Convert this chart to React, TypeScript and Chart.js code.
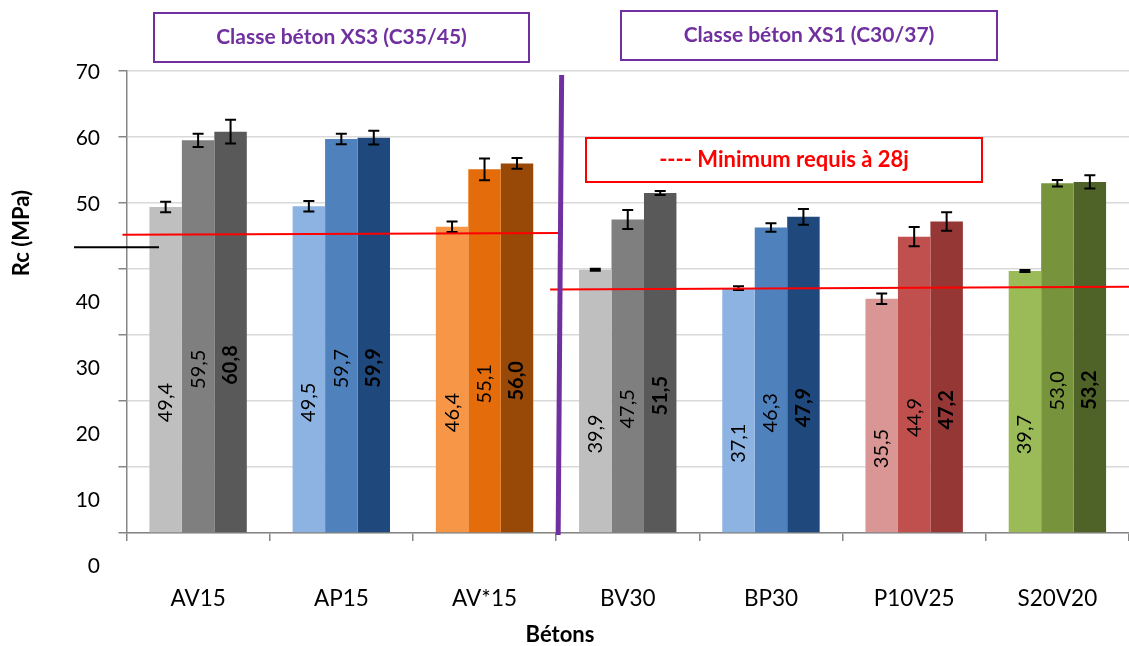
import React, { useEffect, useRef } from 'react';
import { Chart, registerables } from 'chart.js';

Chart.register(...registerables);

// ---- Data ----
const categories = ['AV15', 'AP15', 'AV*15', 'BV30', 'BP30', 'P10V25', 'S20V20'];
const seriesNames = ['Série 1', 'Série 2', 'Série 3'];
const series1 = [49.4, 49.5, 46.4, 39.9, 37.1, 35.5, 39.7];
const series2 = [59.5, 59.7, 55.1, 47.5, 46.3, 44.9, 53.0];
const series3 = [60.8, 59.9, 56.0, 51.5, 47.9, 47.2, 53.2];
const err1 = [0.8, 0.8, 0.8, 0.15, 0.3, 0.8, 0.15];
const err2 = [1.0, 0.8, 1.65, 1.45, 0.65, 1.45, 0.5];
const err3 = [1.8, 1.05, 0.8, 0.3, 1.2, 1.4, 1.0];
const labels1 = ['49,4', '49,5', '46,4', '39,9', '37,1', '35,5', '39,7'];
const labels2 = ['59,5', '59,7', '55,1', '47,5', '46,3', '44,9', '53,0'];
const labels3 = ['60,8', '59,9', '56,0', '51,5', '47,9', '47,2', '53,2'];
const yTickValues = [0, 10, 20, 30, 40, 50, 60, 70];
const minLineXS3 = [45.2, 45.45]; // start, end value (MPa)
const minLineXS1 = [36.9, 37.3];
const colors1 = ['#bfbfbf', '#8db3e2', '#f79646', '#bfbfbf', '#8db3e2', '#d99694', '#9bbb59'];
const colors2 = ['#7f7f7f', '#4f81bd', '#e46c0a', '#7f7f7f', '#4f81bd', '#c0504d', '#77933c'];
const colors3 = ['#595959', '#1f497d', '#984807', '#595959', '#1f497d', '#953735', '#4f6228'];
const boxText1 = 'Classe béton XS3 (C35/45)';
const boxText2 = 'Classe béton XS1 (C30/37)';
const minText = '---- Minimum requis à 28j';
const yTitle = 'Rc (MPa)';
const xTitle = 'Bétons';

const FONT = 'Lato, "Open Sans", sans-serif';

const overlay = {
  id: 'overlay',
  afterDatasetsDraw(chart: any) {
    const { ctx, scales } = chart;
    const x = scales.x;
    const y = scales.y;
    const errs = [err1, err2, err3];
    const labs = [labels1, labels2, labels3];
    ctx.save();
    // data labels
    labs.forEach((arr, di) => {
      const meta = chart.getDatasetMeta(di);
      meta.data.forEach((bar: any, i: number) => {
        const yc = (bar.y + bar.base) / 2 + 33;
        ctx.save();
        ctx.translate(bar.x, yc);
        ctx.rotate(-Math.PI / 2);
        ctx.font = (di === 2 ? 'bold ' : '') + '20px ' + FONT;
        ctx.fillStyle = '#000';
        ctx.textAlign = 'center';
        ctx.textBaseline = 'middle';
        ctx.fillText(arr[i], 0, 0);
        ctx.restore();
      });
    });
    // error bars
    ctx.strokeStyle = '#000';
    ctx.lineWidth = 2;
    errs.forEach((errArr, di) => {
      const meta = chart.getDatasetMeta(di);
      const data = chart.data.datasets[di].data as number[];
      meta.data.forEach((bar: any, i: number) => {
        const yt = y.getPixelForValue(data[i] + errArr[i]);
        const yb = y.getPixelForValue(data[i] - errArr[i]);
        ctx.beginPath();
        ctx.moveTo(bar.x, yt);
        ctx.lineTo(bar.x, yb);
        ctx.moveTo(bar.x - 5.5, yt);
        ctx.lineTo(bar.x + 5.5, yt);
        ctx.moveTo(bar.x - 5.5, yb);
        ctx.lineTo(bar.x + 5.5, yb);
        ctx.stroke();
      });
    });
    // minimum lines
    const step = (x.right - x.left) / categories.length;
    const sep = x.left + 3 * step;
    ctx.strokeStyle = '#ff0000';
    ctx.lineWidth = 2;
    ctx.beginPath();
    ctx.moveTo(x.left - 4, y.getPixelForValue(minLineXS3[0]));
    ctx.lineTo(sep + 4, y.getPixelForValue(minLineXS3[1]));
    ctx.stroke();
    ctx.beginPath();
    ctx.moveTo(sep - 6, y.getPixelForValue(minLineXS1[0]));
    ctx.lineTo(x.right, y.getPixelForValue(minLineXS1[1]));
    ctx.stroke();
    // short black mark
    ctx.strokeStyle = '#000';
    ctx.lineWidth = 2;
    ctx.beginPath();
    ctx.moveTo(74, y.getPixelForValue(43.3));
    ctx.lineTo(159, y.getPixelForValue(43.3));
    ctx.stroke();
    // purple separator
    ctx.strokeStyle = '#7030a0';
    ctx.lineWidth = 5;
    ctx.beginPath();
    ctx.moveTo(sep + 5.5, y.getPixelForValue(69.4));
    ctx.lineTo(sep + 2, y.bottom + 2);
    ctx.stroke();
    ctx.restore();
  },
  afterDraw(chart: any) {
    const { ctx, scales } = chart;
    const x = scales.x;
    const y = scales.y;
    ctx.save();
    // y tick labels
    ctx.font = '21px ' + FONT;
    ctx.fillStyle = '#000';
    ctx.textAlign = 'right';
    ctx.textBaseline = 'middle';
    yTickValues.forEach((v) => {
      const off = v <= 40 ? 33 : 1;
      ctx.fillText(String(v), 100, y.getPixelForValue(v) + off);
    });
    // x labels
    ctx.font = '22.5px ' + FONT;
    ctx.textAlign = 'center';
    categories.forEach((c, i) => {
      ctx.fillText(c, x.getPixelForValue(i), 599);
    });
    // titles
    ctx.font = 'bold 22px ' + FONT;
    ctx.fillText(xTitle, 560, 635);
    ctx.save();
    ctx.translate(22, 233);
    ctx.rotate(-Math.PI / 2);
    ctx.fillText(yTitle, 0, 0);
    ctx.restore();
    // boxes
    const box = (x0: number, y0: number, x1: number, y1: number, col: string, text: string, size: number) => {
      ctx.fillStyle = '#fff';
      ctx.fillRect(x0, y0, x1 - x0, y1 - y0);
      ctx.strokeStyle = col;
      ctx.lineWidth = 2;
      ctx.strokeRect(x0, y0, x1 - x0, y1 - y0);
      ctx.fillStyle = col;
      ctx.font = 'bold ' + size + 'px ' + FONT;
      ctx.textAlign = 'center';
      ctx.textBaseline = 'middle';
      ctx.fillText(text, (x0 + x1) / 2, (y0 + y1) / 2);
    };
    box(154, 13, 529, 62, '#7030a0', boxText1, 21);
    box(621, 11, 997, 60, '#7030a0', boxText2, 21);
    box(586, 138, 982, 182, '#ff0000', minText, 22);
    ctx.restore();
  },
};

export default function App() {
  const ref = useRef<HTMLCanvasElement | null>(null);
  useEffect(() => {
    document.body.style.margin = '0';
    if (!ref.current) return;
    const chart = new Chart(ref.current, {
      type: 'bar',
      data: {
        labels: categories,
        datasets: [
          { label: seriesNames[0], data: series1, backgroundColor: colors1 },
          { label: seriesNames[1], data: series2, backgroundColor: colors2 },
          { label: seriesNames[2], data: series3, backgroundColor: colors3 },
        ],
      },
      options: {
        responsive: false,
        animation: false,
        devicePixelRatio: 1,
        layout: { padding: { left: 118.5, top: 71, right: 0, bottom: 105 } },
        plugins: { legend: { display: false }, tooltip: { enabled: false } },
        datasets: { bar: { barPercentage: 1, categoryPercentage: 0.68 } },
        scales: {
          x: {
            offset: true,
            grid: { display: true, drawOnChartArea: false, offset: true, tickLength: 8, tickColor: '#868686', lineWidth: 1.5 },
            border: { color: '#868686', width: 1.5 },
            ticks: { display: false },
          },
          y: {
            min: 0,
            max: 70,
            ticks: { display: false, stepSize: 10 },
            grid: { color: '#d9d9d9', lineWidth: 1.5, tickLength: 8, tickColor: '#868686' },
            border: { color: '#868686', width: 1.5 },
          },
        },
      },
      plugins: [overlay],
    });
    return () => chart.destroy();
  }, []);
  return (
    <div style={{ width: 1129, height: 646 }}>
      <canvas ref={ref} width={1129} height={646} style={{ width: 1129, height: 646, display: 'block' }} />
    </div>
  );
}
